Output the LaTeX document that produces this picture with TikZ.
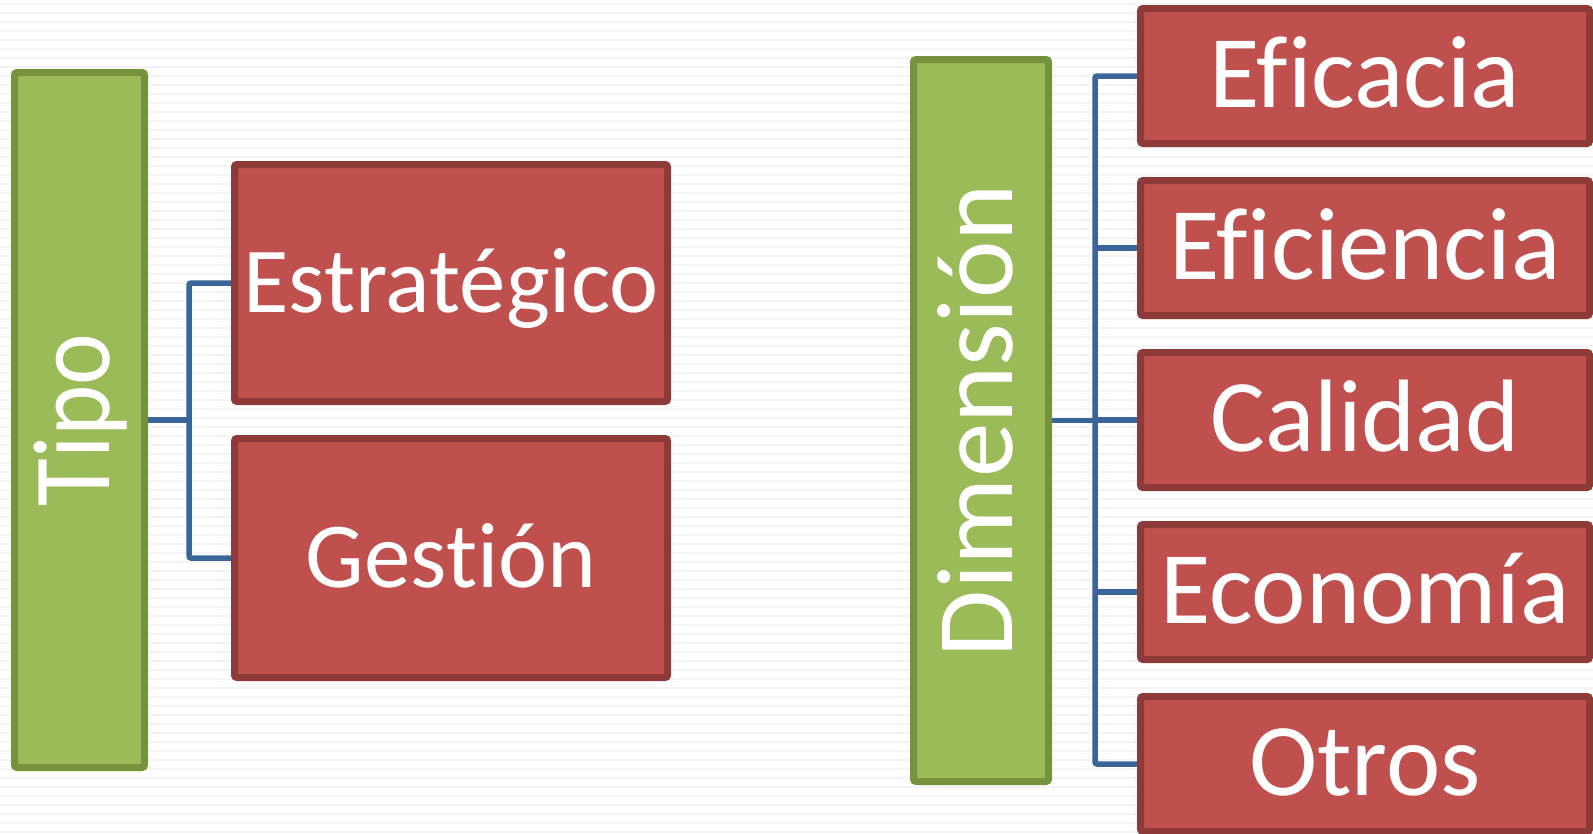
\documentclass[tikz,border=0pt]{standalone}
\usepackage{fontspec}
\setmainfont{Carlito}[Ligatures={NoCommon,NoRare,NoContextual}]
\usetikzlibrary{backgrounds}
\definecolor{gfill}{HTML}{9BBB59}
\definecolor{gline}{HTML}{76923C}
\definecolor{rfill}{HTML}{C0504D}
\definecolor{rline}{HTML}{8E3A38}
\definecolor{cline}{HTML}{3A6599}
\definecolor{stripec}{HTML}{F4F4F4}
\tikzset{
  gbox/.style={draw=gline, fill=gfill, line width=7pt, rounded corners=2.5pt, inner sep=0pt, text=white, rotate=90},
  rbox/.style={draw=rline, fill=rfill, line width=7pt, rounded corners=2.5pt, inner sep=0pt, text=white},
  conn/.style={draw=cline, line width=5.5pt},
  stripe/.style={draw=stripec, line width=1.5pt}
}
\begin{document}
\begin{tikzpicture}[x=1pt,y=-1pt]
\useasboundingbox (0,0) rectangle (1593,833);
% boxes
\node[gbox, minimum width=695pt, minimum height=130pt, text height=60pt, text depth=0pt,
  font=\fontsize{110}{120}\selectfont] (tipo) at (79.5,420) {\scalebox{0.89}[1]{Tipo}};
\node[rbox, minimum width=433pt, minimum height=237pt, text height=58pt, text depth=0pt,
  font=\fontsize{93}{100}\selectfont] (estr) at (451,283) {Estratégico};
\node[rbox, minimum width=433pt, minimum height=239pt, text height=58pt, text depth=0pt,
  font=\fontsize{93}{100}\selectfont] (gest) at (451,558) {Gestión};
\node[gbox, minimum width=722pt, minimum height=135pt, text height=62pt, text depth=0pt,
  font=\fontsize{109}{120}\selectfont] (dim) at (981,420.5) {Dimensión};
\tikzset{rr/.style={rbox, minimum width=449pt, minimum height=135pt, text height=62pt, text depth=0pt, font=\fontsize{103}{110}\selectfont}}
\node[rr] (e1) at (1365,76) {Eficacia};
\node[rr] (e2) at (1365,248) {Eficiencia};
\node[rr] (e3) at (1365,420) {Calidad};
\node[rr] (e4) at (1365,592) {Economía};
\node[rr] (e5) at (1365,764) {Otros};
\coordinate (tj) at (189,420);
\coordinate (dj) at (1095,420.5);
\begin{scope}[on background layer]
  \foreach \y in {4,13,...,833} \draw[stripe] (0,\y) -- (1593,\y);
  \draw[conn] (tipo.south) -- (tj);
  \draw[conn, rounded corners=2pt] (estr.west) -| (tj) |- (gest.west);
  \draw[conn] (dim.south) -- (dj);
  \draw[conn, rounded corners=2pt] (e1.west) -| (dj) |- (e5.west);
  \draw[conn] (e2.west) -- (e2.west -| dj);
  \draw[conn] (e3.west) -- (e3.west -| dj);
  \draw[conn] (e4.west) -- (e4.west -| dj);
\end{scope}
\end{tikzpicture}
\end{document}
